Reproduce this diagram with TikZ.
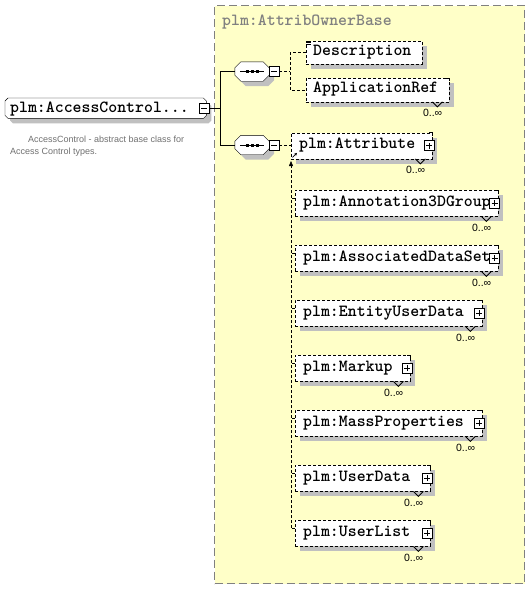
\documentclass[tikz,border=0pt]{standalone}
\usepackage{fontspec}
\usetikzlibrary{arrows.meta}
\newfontfamily\sansf{Liberation Sans}
\definecolor{bgyellow}{HTML}{FFFFC8}
\definecolor{shadowc}{HTML}{C0C0C0}
\definecolor{titlegray}{HTML}{808080}
\definecolor{docgray}{HTML}{707070}
\pgfdeclarelayer{bg}
\pgfdeclarelayer{shadow}
\pgfsetlayers{bg,shadow,main}
\tikzset{
  dsh/.style={dash pattern=on 3pt off 2pt},
  ebox/.style={draw, fill=white, dsh, rectangle, inner sep=0pt, anchor=north west},
  sbox/.style={draw=none, rectangle, inner sep=0pt},
  etext/.style={font=\ttfamily\bfseries\fontsize{17}{17}\selectfont, inner sep=0pt, anchor=base west},
  gtitle/.style={font=\ttfamily\bfseries\fontsize{17}{17}\selectfont, text=titlegray, inner sep=0pt, anchor=base west},
  doctext/.style={font=\sansf\fontsize{9}{11}\selectfont, text=docgray, inner sep=0pt, anchor=base west},
  mult/.style={font=\sansf\fontsize{10.5}{10.5}\selectfont, inner sep=0pt, anchor=base east},
  plusbox/.style={draw, fill=white, solid, rectangle, minimum size=10pt, inner sep=0pt,
    path picture={\draw[line width=0.8pt] ([xshift=2pt]path picture bounding box.west) -- ([xshift=-2pt]path picture bounding box.east)
      ([yshift=2pt]path picture bounding box.south) -- ([yshift=-2pt]path picture bounding box.north);}},
  minusbox/.style={draw, fill=white, solid, rectangle, minimum size=10pt, inner sep=0pt,
    path picture={\draw[line width=0.8pt] ([xshift=2pt]path picture bounding box.west) -- ([xshift=-2pt]path picture bounding box.east);}},
}
\newcommand\rectshadow[1]{\begin{pgfonlayer}{shadow}\fill[shadowc] ([shift={(5pt,-5pt)}]#1.north west) rectangle ([shift={(5pt,-5pt)}]#1.south east);\end{pgfonlayer}}
\newcommand\chamfpath[3]{\path[#3] ([xshift=#2]#1.north west) -- ([xshift=-#2]#1.north east) -- ([yshift=-#2]#1.north east) -- ([yshift=#2]#1.south east) -- ([xshift=-#2]#1.south east) -- ([xshift=#2]#1.south west) -- ([yshift=#2]#1.south west) -- ([yshift=-#2]#1.north west) -- cycle;}
\newcommand\seqsym[1]{\draw ([xshift=-12pt]#1.center) -- ([xshift=12pt]#1.center);
  \foreach \dx in {-5,0,5}{\fill ([shift={(\dx pt-1.5pt,-1.5pt)}]#1.center) rectangle ([shift={(\dx pt+1.5pt,1.5pt)}]#1.center);}}
\newcommand\multi[1]{%
  \draw[line width=0.8pt] ([xshift=-17pt]#1.south east) -- ([shift={(-12pt,-5pt)}]#1.south east) -- ([xshift=-7pt]#1.south east);
  \draw[line width=0.8pt] ([xshift=-3pt]#1.north east) -- (#1.north east) -- ([yshift=-3pt]#1.north east);
  \node[mult] (#1m) at ([shift={(-7pt,-15pt)}]#1.south east) {0..∞};}
\newcommand\stub[1]{\coordinate (#1S) at ([yshift=-8pt]#1.north west); \draw[dsh] (#1S) -- (#1S -| subx);}
\begin{document}
\begin{tikzpicture}[x=1pt,y=-1pt,line width=1pt]
\useasboundingbox (0,0) rectangle (530,589);
\begin{pgfonlayer}{bg}
  \fill[white] (0,0) rectangle (530,589);
  \node[draw=titlegray, fill=bgyellow, line width=1pt, dash pattern=on 8pt off 4pt, rectangle, inner sep=0pt,
    minimum width=310pt, minimum height=578pt, anchor=north west] (grp) at (214,5) {};
\end{pgfonlayer}
\node[gtitle] (grpT) at (222,25) {plm:AttribOwnerBase};

% main element
\node[sbox, minimum width=201pt, minimum height=20pt, anchor=north west] (ac) at (5,98) {};
\begin{pgfonlayer}{shadow}\chamfpath{ac}{3pt}{fill=shadowc, transform canvas={shift={(5pt,-5pt)}}}\end{pgfonlayer}
\chamfpath{ac}{3pt}{draw, fill=white}
\node[etext] (acT) at (10,112.7) {plm:AccessControl...};
\node[minusbox] (acm) at (204,108) {};
\node[doctext] (doc1) at (28,142.7) {AccessControl - abstract base class for};
\node[doctext] (doc2) at (10,154) {Access Control types.};

% compositors
\node[sbox, minimum width=34pt, minimum height=19pt] (seq1) at (252,71.5) {};
\node[sbox, minimum width=34pt, minimum height=19pt] (seq2) at (252,145) {};
\foreach \s in {seq1,seq2}{
  \begin{pgfonlayer}{shadow}\chamfpath{\s}{6pt}{fill=shadowc, transform canvas={shift={(5pt,-5pt)}}}\end{pgfonlayer}
  \chamfpath{\s}{6pt}{draw, fill=white}
  \seqsym{\s}
}
\node[minusbox] (sm1) at (274,71.5) {};
\node[minusbox] (sm2) at (274,145) {};

\coordinate (fork1) at (220,108);
\draw (acm.east) -- (fork1);
\draw (seq1.west) -- (seq1.west -| fork1) -- (seq2.west -| fork1) -- (seq2.west);

% first sequence children
\node[ebox, minimum width=116pt, minimum height=23.5pt] (desc) at (305.5,40.5) {};
\node[ebox, minimum width=143.5pt, minimum height=23.5pt] (app) at (305.5,78) {};
\rectshadow{desc}\rectshadow{app}
\node[etext] (descT) at (313,55) {Description};
\node[etext] (appT) at (313,92.7) {ApplicationRef};
\draw[line width=0.7pt] ([shift={(0.5pt,-0.5pt)}]desc.north west) -- ([shift={(5.5pt,-0.5pt)}]desc.north west)
  ([shift={(0.5pt,-2pt)}]desc.north west) -- ([shift={(5.5pt,-2pt)}]desc.north west)
  ([shift={(0.5pt,-3.5pt)}]desc.north west) -- ([shift={(5.5pt,-3.5pt)}]desc.north west);
\multi{app}
\coordinate (fork2) at (290,71.5);
\draw[dsh] (sm1.east) -- (fork2);
\draw[dsh] (desc.west) -- (desc.west -| fork2) -- (app.west -| fork2) -- (app.west);

% Attribute (substitution group head)
\node[ebox, minimum width=141.5pt, minimum height=26pt] (attr) at (290.5,132.5) {};
\rectshadow{attr}
\node[etext] (attrT) at (299,148.3) {plm:Attribute};
\node[plusbox] (attrP) at (429,145.5) {};
\multi{attr}
\draw[dsh] (sm2.east) -- (sm2.east -| attr.west);
\draw[line width=0.8pt, -{Stealth[length=3pt,width=3pt]}] ([shift={(2pt,1.5pt)}]attr.south west) -- ([shift={(6.5pt,6pt)}]attr.south west);

% substitution members
\node[ebox, minimum width=203pt, minimum height=26pt] (ann) at (295,190) {};
\node[ebox, minimum width=203pt, minimum height=26pt] (ads) at (295,245) {};
\node[ebox, minimum width=187pt, minimum height=26pt] (eud) at (295,300) {};
\node[ebox, minimum width=115pt, minimum height=26pt] (mku) at (295,355) {};
\node[ebox, minimum width=187pt, minimum height=26pt] (mps) at (295,410) {};
\node[ebox, minimum width=135pt, minimum height=26pt] (udt) at (295,465) {};
\node[ebox, minimum width=135pt, minimum height=26pt] (uls) at (295,520) {};
\foreach \n in {ann,ads,eud,mku,mps,udt,uls}{\rectshadow{\n}}
\node[etext] (annT) at (303,206) {plm:Annotation3DGroup};
\node[etext] (adsT) at (303,261) {plm:AssociatedDataSet};
\node[etext] (eudT) at (303,316) {plm:EntityUserData};
\node[etext] (mkuT) at (303,371) {plm:Markup};
\node[etext] (mpsT) at (303,426) {plm:MassProperties};
\node[etext] (udtT) at (303,481) {plm:UserData};
\node[etext] (ulsT) at (303,536) {plm:UserList};
\node[plusbox] (annP) at (494.5,203) {};
\node[plusbox] (adsP) at (494.5,258) {};
\node[plusbox] (eudP) at (479,313) {};
\node[plusbox] (mkuP) at (407,368) {};
\node[plusbox] (mpsP) at (479,423) {};
\node[plusbox] (udtP) at (427,478) {};
\node[plusbox] (ulsP) at (427,533) {};
\foreach \n in {ann,ads,eud,mku,mps,udt,uls}{\multi{\n}}
\coordinate (subx) at (291,161);
\foreach \n in {ann,ads,eud,mku,mps,udt,uls}{\stub{\n}}
\draw[dsh, -{Triangle[length=5pt,width=4pt]}] (ulsS -| subx) -- (subx);
\end{tikzpicture}
\end{document}
